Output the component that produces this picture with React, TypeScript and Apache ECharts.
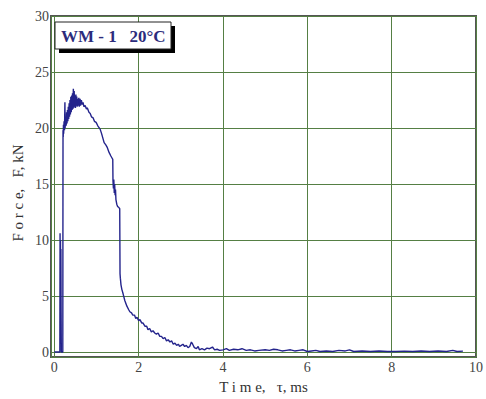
import React, { useEffect, useRef } from "react";
import * as echarts from "echarts";

// Time, ms
const timeMs: number[] = [
  0, 0.13, 0.135, 0.14, 0.145, 0.15, 0.155, 0.16, 0.165, 0.2,
  0.205, 0.21, 0.215, 0.22, 0.23, 0.24, 0.25, 0.255, 0.27, 0.28,
  0.29, 0.3, 0.31, 0.32, 0.33, 0.34, 0.35, 0.36, 0.37, 0.38,
  0.39, 0.4, 0.41, 0.42, 0.43, 0.44, 0.45, 0.46, 0.47, 0.48,
  0.49, 0.5, 0.51, 0.52, 0.53, 0.54, 0.55, 0.56, 0.58, 0.59,
  0.61, 0.62, 0.64, 0.66, 0.68, 0.7, 0.73, 0.76, 0.78, 0.82,
  0.85, 0.88, 0.92, 0.95, 0.99, 1.03, 1.085, 1.12, 1.15, 1.18,
  1.22, 1.25, 1.28, 1.3, 1.34, 1.37, 1.385, 1.39, 1.4, 1.41,
  1.42, 1.43, 1.44, 1.45, 1.46, 1.48, 1.5, 1.53, 1.55, 1.557,
  1.565, 1.58, 1.6, 1.63, 1.67, 1.72, 1.76, 1.79, 1.83, 1.86,
  1.9, 1.93, 1.96, 2.0, 2.03, 2.07, 2.1, 2.15, 2.19, 2.22,
  2.26, 2.3, 2.34, 2.38, 2.42, 2.46, 2.5, 2.54, 2.58, 2.62,
  2.66, 2.7, 2.74, 2.78, 2.82, 2.86, 2.9, 2.94, 2.97, 3.01,
  3.05, 3.09, 3.13, 3.17, 3.21, 3.25, 3.28, 3.32, 3.37, 3.41,
  3.44, 3.5, 3.56, 3.62, 3.68, 3.75, 3.8, 3.86, 3.92, 4.0,
  4.08, 4.15, 4.25, 4.35, 4.45, 4.55, 4.65, 4.75, 4.85, 5.0,
  5.1, 5.2, 5.3, 5.4, 5.5, 5.6, 5.7, 5.8, 5.9, 6.0,
  6.1, 6.2, 6.3, 6.45, 6.6, 6.75, 6.9, 7.0, 7.1, 7.3,
  7.5, 7.7, 7.9, 8.1, 8.3, 8.5, 8.7, 8.9, 9.1, 9.3,
  9.45, 9.55, 9.69,
];

// Force, kN
const forceKN: number[] = [
  0, 0, 10.6, 4.0, 10.0, 4.5, 9.2, 3.5, 0, 0,
  19.8, 19.2, 20.3, 19.5, 20.6, 19.8, 22.3, 20.0, 21.0, 20.2,
  21.4, 20.4, 21.6, 20.6, 21.9, 20.8, 22.2, 21.0, 22.5, 21.2,
  22.8, 21.4, 22.9, 21.6, 23.1, 21.7, 23.5, 21.8, 23.3, 21.9,
  22.9, 21.8, 23.0, 22.0, 22.8, 21.9, 22.6, 22.0, 22.7, 21.9,
  22.6, 22.0, 22.5, 22.1, 22.3, 21.9, 22.0, 21.7, 21.8, 21.4,
  21.3, 21.0, 20.9, 20.6, 20.5, 20.2, 19.9, 19.5, 19.1, 18.7,
  18.5, 18.3, 18.0, 17.8, 17.5, 17.3, 17.2, 15.3, 14.6, 15.4,
  14.2, 15.0, 14.0, 14.5, 13.6, 13.2, 13.0, 12.9, 12.8, 7.0,
  6.6, 6.0, 5.6, 5.2, 4.6, 4.1, 3.8, 3.6, 3.5, 3.3,
  3.3, 3.0, 3.1, 2.8, 2.9, 2.6, 2.6, 2.3, 2.3, 2.0,
  2.1, 1.8, 1.9, 1.7, 1.6, 1.7, 1.4, 1.4, 1.2, 1.3,
  1.0, 1.1, 0.9, 1.0, 0.7, 0.8, 0.6, 0.7, 0.5, 0.6,
  0.7, 0.5, 0.6, 0.4, 0.5, 0.9, 0.7, 0.4, 0.3, 0.5,
  0.2, 0.3, 0.2, 0.35, 0.3, 0.45, 0.2, 0.25, 0.15, 0.2,
  0.3, 0.15, 0.25, 0.2, 0.3, 0.15, 0.2, 0.1, 0.15, 0.2,
  0.15, 0.25, 0.2, 0.1, 0.15, 0.2, 0.1, 0.15, 0.2, 0.05,
  0.1, 0.15, 0.05, 0.1, 0.05, 0.15, 0.1, 0.2, 0.05, 0.1,
  0.05, 0.1, 0.05, 0.05, 0.08, 0.05, 0.1, 0.05, 0.1, 0.05,
  0.15, 0.05, 0.08,
];

const titleText = "WM - 1   20°C";
const xAxisTitle = "T i m e,   τ, ms";
const yAxisTitle = "F o r c e,   F, kN";

export default function App() {
  const ref = useRef<HTMLDivElement | null>(null);

  useEffect(() => {
    if (!ref.current) return;
    const chart = echarts.init(ref.current, undefined, { renderer: "svg" });
    const points = timeMs.map((t, i) => [t, forceKN[i]]);
    const serif = "'Liberation Serif', 'DejaVu Serif', serif";
    const gridColor = "#557f44";

    chart.setOption({
      animation: false,
      backgroundColor: "#ffffff",
      grid: {
        left: 51,
        top: 16,
        right: 8,
        bottom: 40,
        show: true,
        borderColor: "#555555",
        borderWidth: 2,
        backgroundColor: "transparent",
      },
      xAxis: {
        type: "value",
        min: -0.08,
        max: 10,
        splitNumber: 5,
        axisLine: { show: false },
        axisTick: { show: false },
        axisLabel: {
          showMinLabel: false,
          color: "#444444",
          fontFamily: serif,
          fontSize: 14,
          margin: 3,
        },
        splitLine: { show: true, lineStyle: { color: gridColor, width: 1 } },
        name: xAxisTitle,
        nameLocation: "middle",
        nameGap: 17,
        nameTextStyle: { color: "#333333", fontFamily: serif, fontSize: 15 },
      },
      yAxis: {
        type: "value",
        min: -0.45,
        max: 30,
        splitNumber: 6,
        axisLine: { show: false },
        axisTick: { show: false },
        axisLabel: {
          showMinLabel: false,
          color: "#444444",
          fontFamily: serif,
          fontSize: 14,
          margin: 2,
        },
        splitLine: { show: true, lineStyle: { color: gridColor, width: 1 } },
      },
      graphic: [
        {
          type: "text",
          x: 18,
          y: 193,
          rotation: Math.PI / 2,
          style: {
            text: yAxisTitle,
            fill: "#333333",
            font: "15px 'Liberation Serif', serif",
            align: "center",
            verticalAlign: "middle",
          },
        },
        {
          type: "rect",
          shape: { x: 59, y: 26, width: 116, height: 27 },
          style: { fill: "#000000" },
          z: 100,
        },
        {
          type: "rect",
          shape: { x: 55, y: 22, width: 116, height: 27 },
          style: { fill: "#ffffff", stroke: "#222222", lineWidth: 1 },
          z: 101,
        },
        {
          type: "text",
          x: 61,
          y: 36,
          style: {
            text: titleText,
            fill: "#2c2c7c",
            font: "bold 17px 'Liberation Serif', serif",
            verticalAlign: "middle",
          },
          z: 102,
        },
      ],
      series: [
        {
          type: "line",
          data: points,
          showSymbol: false,
          lineStyle: { color: "#24248c", width: 1.4 },
          z: 5,
        },
      ],
    });

    return () => chart.dispose();
  }, []);

  return (
    <div
      ref={ref}
      style={{ position: "fixed", left: 0, top: 0, width: 486, height: 399 }}
    />
  );
}
